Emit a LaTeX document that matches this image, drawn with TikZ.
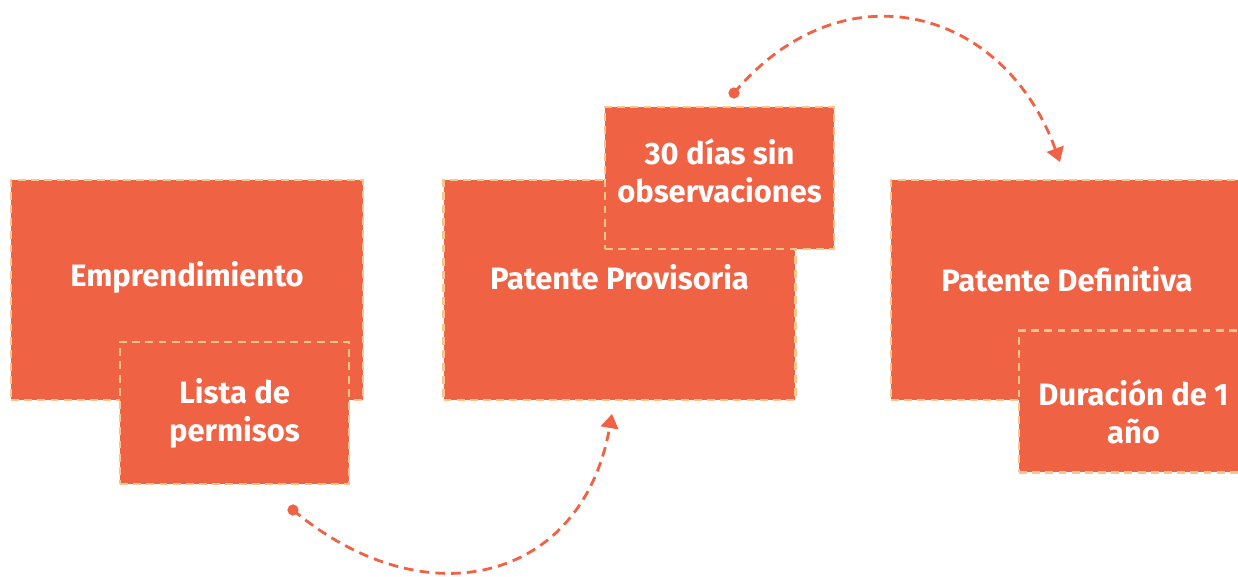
\documentclass[tikz,border=0pt]{standalone}
\usepackage{fontspec}
\setmainfont{Fira Sans}
\usetikzlibrary{arrows.meta, calc}
\definecolor{naranja}{HTML}{F06244}
\definecolor{borde}{HTML}{FAC48E}

\begin{document}
\begin{tikzpicture}[x=0.02cm, y=-0.02cm,
  caja/.style={rectangle, fill=naranja, draw=borde, line width=1.6pt,
    dash pattern=on 4.5pt off 3pt, inner sep=0pt},
  grande/.style={caja, minimum width=7.04cm, minimum height=4.4cm},
  chica/.style={caja, minimum width=4.58cm, minimum height=2.84cm},
  texto/.style={text=white, font=\bfseries\fontsize{17.6}{21.5}\selectfont, align=center},
  flecha/.style={naranja, line width=1.6pt, dash pattern=on 5.5pt off 3.5pt,
    -{Triangle[width=10pt,length=8pt]}}]
  \useasboundingbox (0,0) rectangle (1238,576);
  \clip (0,0) rectangle (1238,576);

  % big boxes
  \node[grande] (empr) at (187,290) {};
  \node[grande] (prov) at (619.5,290) {};
  \node[grande] (defi) at (1067,290) {};

  % small boxes on top
  \node[chica] (lista) at (234.5,413) {};
  \node[chica] (dias) at (719.5,178) {};
  \node[chica] (dura) at (1133.5,401.5) {};

  \node[texto] (t1) at ($(empr)+(0,-13)$) {Emprendimiento};
  \node[texto] (t2) at ($(prov)+(0,-13)$) {Patente Provisoria};
  \node[texto] (t3) at ($(defi)+(0,-11)$) {Patente Definitiva};
  \node[texto] (t4) at (lista) {Lista de\\permisos};
  \node[texto] (t5) at ($(dias)+(0,-7)$) {30 días sin\\observaciones};
  \node[texto] (t6) at ($(dura)+(0,10)$) {Duración de 1\\año};

  % connectors
  \coordinate (ini1) at (293,510);
  \coordinate (fin1) at (612,414);
  \coordinate (ini2) at (734,93);
  \coordinate (fin2) at (1060,162);

  \fill[naranja] (ini1) circle (3.2pt);
  \fill[naranja] (ini2) circle (3.2pt);
  \draw[flecha] (ini1) to[out=-40, in=-100, looseness=1.32] (fin1);
  \draw[flecha] (ini2) to[out=50, in=110, looseness=1.28] (fin2);
\end{tikzpicture}
\end{document}
